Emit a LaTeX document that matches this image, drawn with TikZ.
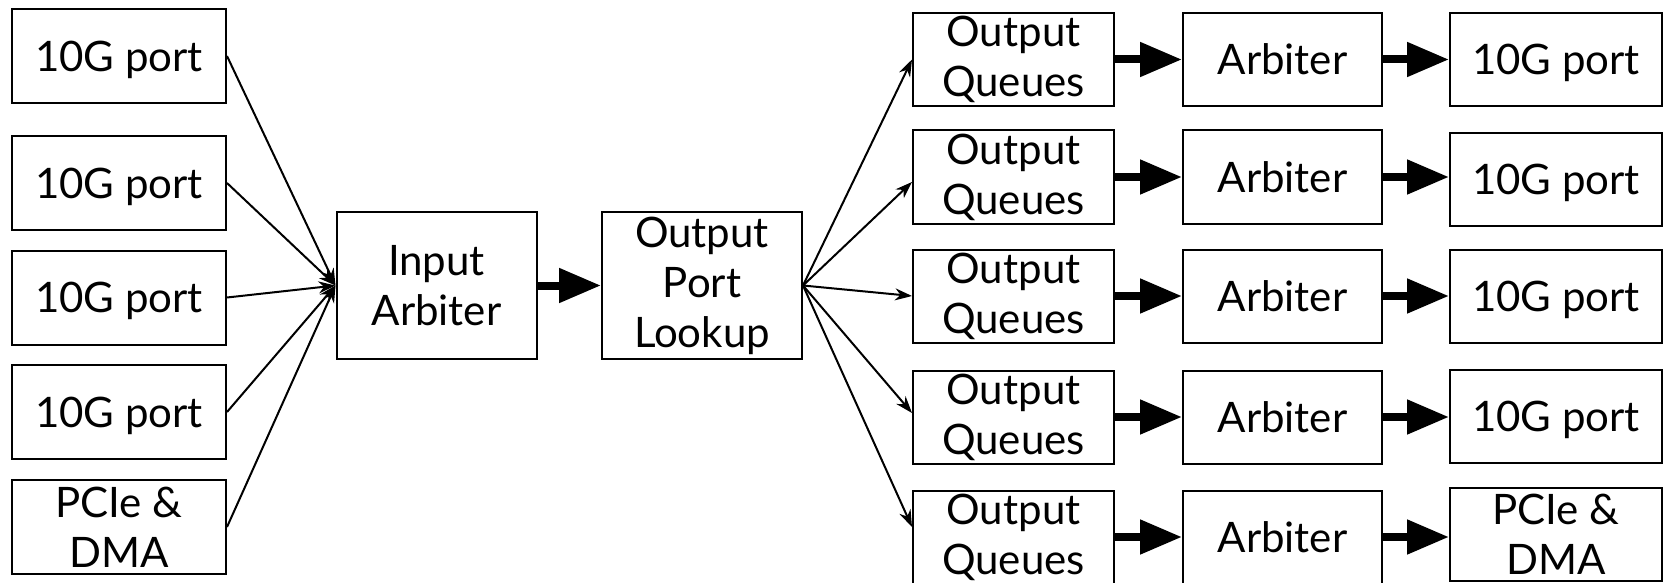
\documentclass[tikz,border=0pt]{standalone}
\usepackage{fontspec}
\setmainfont{Lato}
\usetikzlibrary{arrows.meta}
\begin{document}
\begin{tikzpicture}[x=1pt,y=-1pt,
  blk/.style={draw, line width=2pt, inner sep=0pt, align=center,
    font=\fontsize{42}{50}\selectfont},
  oneline/.style={text depth=0pt},
  portbox/.style={blk, minimum width=214pt, minimum height=94pt},
  midbox/.style={blk, minimum width=200pt, minimum height=147pt},
  qbox/.style={blk, minimum width=201pt, minimum height=93pt},
  arbbox/.style={blk, minimum width=199pt, minimum height=93pt},
  outbox/.style={blk, minimum width=212pt, minimum height=93pt},
  fan/.style={line width=2pt, -{Stealth[length=17pt,width=12pt]}},
  pipe/.style={line width=8pt, -{Triangle[length=42pt,width=33pt]}}]
\useasboundingbox (0,0) rectangle (1667,583);

% input ports
\node[portbox,oneline] (p1) at (119,56)    {10G port};
\node[portbox,oneline] (p2) at (119,183)   {10G port};
\node[portbox,oneline] (p3) at (119,297.5) {10G port};
\node[portbox,oneline] (p4) at (119,412)   {10G port};
\node[portbox] (p5) at (119,527)   {PCIe \&\\DMA};

% central pipeline
\node[midbox] (ia)  at (436.5,285.5) {Input\\Arbiter};
\node[midbox] (opl) at (702,285.5)   {Output\\Port\\Lookup};

% output queues and arbiters
\foreach \i/\y in {1/59.5, 2/177, 3/296, 4/417, 5/537} {
  \node[qbox]   (oq\i) at (1013.5,\y) {Output\\Queues};
  \node[arbbox] (ar\i) at (1282.5,\y) {Arbiter};
}
% output ports
\node[outbox,oneline] (o1) at (1556,59.5)  {10G port};
\node[outbox,oneline] (o2) at (1556,179.5) {10G port};
\node[outbox,oneline] (o3) at (1556,296)   {10G port};
\node[outbox,oneline] (o4) at (1556,416)   {10G port};
\node[outbox] (o5) at (1556,534.5) {PCIe \&\\DMA};

% fan-in to the input arbiter
\foreach \i in {1,...,5} \draw[fan] (p\i.east) -- (ia.west);

% input arbiter to lookup
\draw[pipe] (ia.east) -- (opl.west);

% fan-out from the lookup
\draw[fan] (opl.east) -- (oq1.west);
\draw[fan] (opl.east) -- ([yshift=-5pt]oq2.west);
\draw[fan] (opl.east) -- (oq3.west);
\draw[fan] (opl.east) -- ([yshift=4pt]oq4.west);
\draw[fan] (opl.east) -- ([yshift=10pt]oq5.west);

% per-port output path
\foreach \i in {1,...,5} {
  \draw[pipe] (oq\i.east) -- (ar\i.west);
  \draw[pipe] (ar\i.east) -- (ar\i.east -| o\i.west);
}
\end{tikzpicture}
\end{document}
